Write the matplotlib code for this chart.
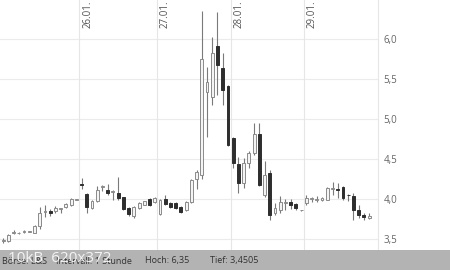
import matplotlib
matplotlib.use("Agg")
import matplotlib.pyplot as plt
import numpy as np

plt.rcParams["font.family"] = ["Open Sans", "DejaVu Sans"]

# hourly candles (open, high, low, close)
opens = [3.48, 3.47, 3.58, 3.57, 3.59, 3.59, 3.58, 3.66, 3.84, 3.85, 3.85, 3.88, 3.90, 3.92, 3.99,
         4.19, 4.06, 3.89, 3.97, 4.15, 4.11, 4.09, 4.07, 4.02, 3.89, 3.79, 3.89, 3.93, 4.00, 3.96,
         3.81, 4.00, 3.95, 3.95, 3.90, 3.86, 3.96, 4.25, 4.30, 5.34, 5.27, 5.91, 5.64, 5.41,
         4.76, 4.44, 4.20, 4.45, 4.57, 4.81, 4.05, 4.33, 3.83, 3.86, 3.95, 3.96, 3.94, 3.86,
         3.95, 4.00, 3.99, 3.99, 3.99, 4.13, 4.12, 4.15, 4.05, 4.04, 3.86, 3.80, 3.76]
highs = [3.51, 3.56, 3.61, 3.59, 3.61, 3.595, 3.67, 3.90, 3.93, 3.87, 3.91, 3.89, 3.95, 4.01, 3.995,
         4.26, 4.07, 3.99, 4.16, 4.17, 4.19, 4.11, 4.27, 4.03, 3.90, 3.91, 3.96, 3.98, 4.01, 4.02,
         4.00, 4.05, 3.96, 3.96, 3.91, 3.97, 4.25, 4.36, 6.35, 5.65, 6.02, 6.34, 5.82, 5.42,
         4.78, 4.52, 4.51, 4.60, 4.95, 4.95, 4.48, 4.36, 3.95, 4.04, 4.00, 4.00, 3.95, 3.865,
         4.05, 4.03, 4.04, 4.03, 4.15, 4.21, 4.20, 4.16, 4.06, 4.08, 3.93, 3.83, 3.82]
lows = [3.4505, 3.46, 3.56, 3.56, 3.58, 3.585, 3.57, 3.62, 3.78, 3.79, 3.83, 3.82, 3.89, 3.91, 3.985,
        4.12, 3.82, 3.88, 3.96, 4.10, 4.05, 3.99, 3.99, 3.86, 3.79, 3.76, 3.87, 3.92, 3.91, 3.95,
        3.80, 3.93, 3.89, 3.88, 3.83, 3.85, 3.95, 4.12, 4.25, 4.78, 5.17, 5.30, 5.17, 4.66,
        4.39, 4.08, 4.14, 4.39, 4.55, 4.16, 4.02, 3.74, 3.80, 3.83, 3.86, 3.88, 3.86, 3.855,
        3.93, 3.96, 3.96, 3.97, 3.99, 4.05, 4.01, 3.99, 3.97, 3.74, 3.76, 3.74, 3.75]
closes = [3.49, 3.55, 3.585, 3.575, 3.595, 3.59, 3.66, 3.83, 3.85, 3.83, 3.89, 3.885, 3.94, 4.00, 3.99,
          4.17, 3.90, 3.98, 4.11, 4.155, 4.07, 4.095, 4.01, 3.88, 3.81, 3.90, 3.95, 3.97, 3.93, 4.01,
          3.99, 3.94, 3.90, 3.89, 3.84, 3.96, 4.24, 4.34, 5.75, 5.46, 5.82, 5.68, 5.36, 4.67,
          4.45, 4.20, 4.45, 4.57, 4.81, 4.18, 4.30, 3.80, 3.89, 3.96, 3.96, 3.92, 3.89, 3.86,
          4.01, 4.01, 4.00, 4.01, 4.14, 4.14, 4.11, 4.01, 4.045, 3.86, 3.80, 3.78, 3.79]

day_labels = ["26.01.", "27.01.", "28.01.", "29.01."]
day_starts = [14.6, 29.4, 43.5, 57.5]
y_ticks = [3.5, 4.0, 4.5, 5.0, 5.5, 6.0]
footer_items = ["Börse: L&S", "Intervall: 1 Stunde", "Hoch: 6,35", "Tief: 3,4505"]

o = np.array(opens); h = np.array(highs); l = np.array(lows); c = np.array(closes)
idx = np.arange(len(o))

fig = plt.figure(figsize=(4.5, 2.7), dpi=100)
fig.patch.set_facecolor("white")
ax = fig.add_axes([0, 20/270, 378/450, 250/270])
ax.set_facecolor("white")

ax.set_xlim(-0.6, 71.7)
ax.set_ylim(3.3625, 6.4875)

# grid
for t in y_ticks:
    ax.axhline(t, color="#ebebeb", lw=0.8, zorder=0)
for d in day_starts:
    ax.axvline(d, color="#e6e6e6", lw=0.8, zorder=0)

up = c >= o
body_bottom = np.minimum(o, c)
body_h = np.maximum(np.abs(c - o), 0.008)

ax.vlines(idx, l, h, color="#7a7a7a", lw=0.8, zorder=1)
ax.bar(idx[up], body_h[up], bottom=body_bottom[up], width=0.55,
       color="#f4f4f4", edgecolor="#8a8a8a", linewidth=0.7, zorder=2)
ax.bar(idx[~up], body_h[~up], bottom=body_bottom[~up], width=0.55,
       color="#2e2e2e", edgecolor="#2e2e2e", linewidth=0.7, zorder=2)

for lab, d in zip(day_labels, day_starts):
    ax.text(d + 0.5, 0.998, lab, transform=ax.get_xaxis_transform(), rotation=90,
            ha="left", va="top", fontsize=7, color="#555555")

ax.yaxis.tick_right()
ax.set_yticks(y_ticks)
ax.set_yticklabels([f"{t:.1f}".replace(".", ",") for t in y_ticks])
ax.tick_params(axis="y", length=0, pad=4, labelsize=7, labelcolor="#666666")
ax.set_xticks([])
for s in ["top", "left", "bottom"]:
    ax.spines[s].set_visible(False)
ax.spines["right"].set_color("#e6e6e6")
ax.spines["right"].set_linewidth(0.8)

# footer bar
bar = fig.add_axes([0, 0, 1, 20/270])
bar.set_facecolor("#b3b3b3")
bar.set_xticks([]); bar.set_yticks([])
for s in bar.spines.values():
    s.set_visible(False)
xs = [2, 56, 145, 210]
for txt, xp in zip(footer_items, xs):
    bar.text(xp / 450, 0.45, txt, transform=bar.transAxes, fontsize=6.5,
             color="#333333", va="center", ha="left")
bar.text(8 / 450, 0.55, "10kB  620x372", transform=bar.transAxes, fontsize=11,
         color="white", alpha=0.85, va="center", ha="left")

fig.savefig("out.png", dpi=100)
